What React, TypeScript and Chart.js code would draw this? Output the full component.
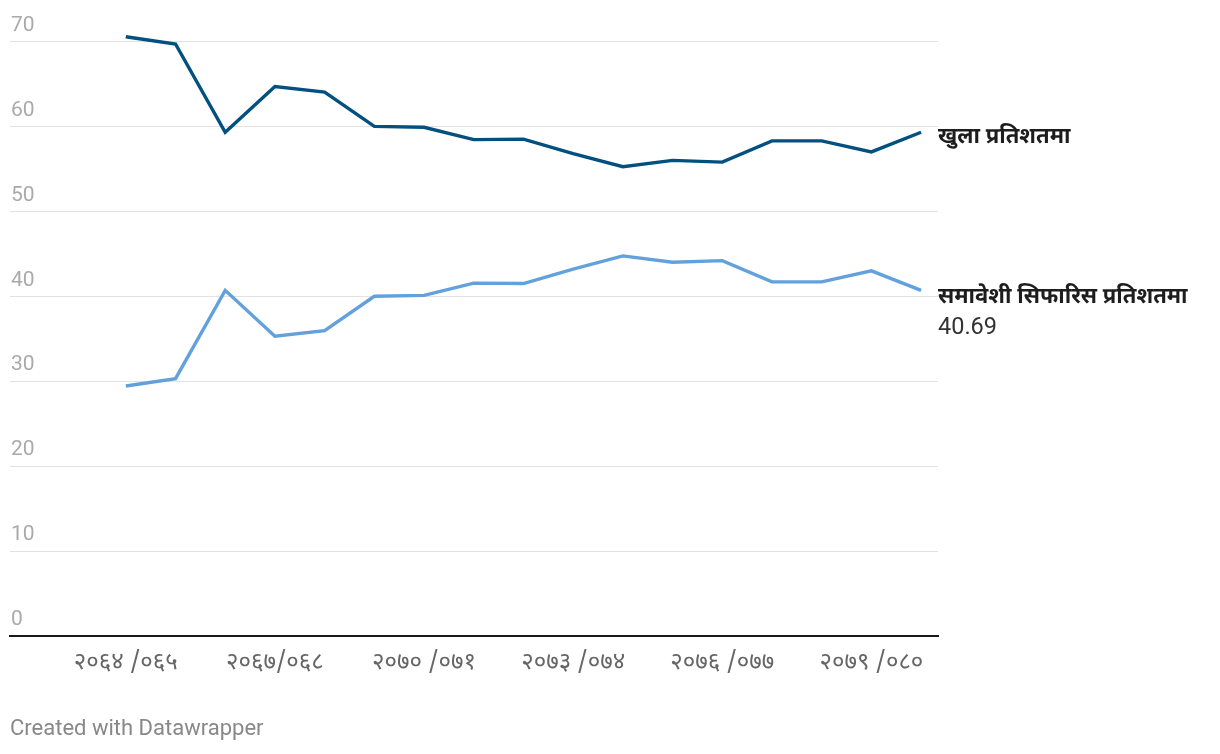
import React, { useEffect, useRef } from "react";
import { Chart, registerables } from "chart.js";

Chart.register(...registerables);

// Fiscal years (Nepali, Devanagari digits)
const categories = [
  "२०६४ /०६५", "२०६५ /०६६", "२०६६ /०६७", "२०६७/०६८", "२०६८ /०६९",
  "२०६९ /०७०", "२०७० /०७१", "२०७१ /०७२", "२०७२ /०७३", "२०७३ /०७४",
  "२०७४ /०७५", "२०७५ /०७६", "२०७६ /०७७", "२०७७ /०७८", "२०७८ /०७९",
  "२०७९ /०८०", "२०८० /०८१",
];
const tickIndices = [0, 3, 6, 9, 12, 15];
const yTicks = [0, 10, 20, 30, 40, 50, 60, 70];

const openPct = [
  70.56, 69.7, 59.3, 64.7, 64.05, 60.0, 59.9, 58.45, 58.5, 56.8, 55.25, 56.0,
  55.8, 58.3, 58.3, 57.0, 59.31,
];
const inclusivePct = [
  29.44, 30.3, 40.7, 35.3, 35.95, 40.0, 40.1, 41.55, 41.5, 43.2, 44.75, 44.0,
  44.2, 41.7, 41.7, 43.0, 40.69,
];
const seriesNames = ["खुला प्रतिशतमा", "समावेशी सिफारिस प्रतिशतमा"];
const seriesColors = ["#02507f", "#62a1dc"];
const showLastValue = [false, true];

const DEVA = "'Noto Sans Devanagari', 'Noto Sans', Roboto, sans-serif";

const endLabels = {
  id: "endLabels",
  afterDatasetsDraw(chart: any) {
    const ctx = chart.ctx;
    const x = chart.chartArea.right;
    ctx.save();
    chart.data.datasets.forEach((ds: any, i: number) => {
      const meta = chart.getDatasetMeta(i);
      const pt = meta.data[meta.data.length - 1];
      const y = pt.y;
      ctx.textAlign = "left";
      ctx.textBaseline = "middle";
      ctx.fillStyle = "#1d1d1d";
      ctx.font = `bold 22px ${DEVA}`;
      ctx.fillText(seriesNames[i], x, y + (i === 0 ? 7 : 8));
      if (showLastValue[i]) {
        const v = ds.data[ds.data.length - 1].y;
        ctx.font = `23.5px Roboto, sans-serif`;
        ctx.fillStyle = "#333333";
        ctx.fillText(v.toFixed(2), x, y + 38);
      }
    });
    ctx.restore();
  },
};

export default function App() {
  const ref = useRef<HTMLCanvasElement | null>(null);

  useEffect(() => {
    if (!ref.current) return;
    const chart = new Chart(ref.current, {
      type: "line",
      data: {
        datasets: [
          {
            label: seriesNames[0],
            data: openPct.map((v, i) => ({ x: i, y: v })),
            borderColor: seriesColors[0],
            borderWidth: 3.4,
            pointRadius: 0,
            tension: 0,
          },
          {
            label: seriesNames[1],
            data: inclusivePct.map((v, i) => ({ x: i, y: v })),
            borderColor: seriesColors[1],
            borderWidth: 3.4,
            pointRadius: 0,
            tension: 0,
          },
        ],
      },
      options: {
        animation: false,
        responsive: true,
        maintainAspectRatio: false,
        layout: { padding: { left: 2, right: 274, top: 16.5, bottom: 50 } },
        plugins: {
          legend: { display: false },
          tooltip: { enabled: false },
        },
        scales: {
          x: {
            type: "linear",
            min: -2.33,
            max: 16.34,
            afterBuildTicks: (scale: any) => {
              scale.ticks = tickIndices.map((v) => ({ value: v }));
            },
            afterFit: (scale: any) => {
              scale.height = 60;
            },
            grid: { display: false, drawTicks: false },
            border: { display: true, color: "#1a1a1a", width: 2 },
            ticks: {
              padding: 14,
              color: "#666666",
              font: { size: 24, family: DEVA },
              maxRotation: 0,
              autoSkip: false,
              callback: (v: any) => categories[v] ?? "",
            },
          },
          y: {
            min: 0,
            max: 72,
            afterBuildTicks: (scale: any) => {
              scale.ticks = yTicks.map((v) => ({ value: v }));
            },
            afterFit: (scale: any) => {
              scale.width = 0;
            },
            grid: { color: "#e2e2e2", lineWidth: 1, drawTicks: false },
            border: { display: false },
            ticks: {
              mirror: true,
              padding: 1,
              labelOffset: -16,
              color: "#aaaaaa",
              font: { size: 21, family: "Roboto, sans-serif" },
            },
          },
        },
      },
      plugins: [endLabels],
    } as any);
    return () => chart.destroy();
  }, []);

  return (
    <div style={{ position: "relative", width: 1204, height: 738 }}>
      <canvas ref={ref} />
      <div
        style={{
          position: "absolute",
          left: 2,
          top: 707,
          fontFamily: "Roboto, sans-serif",
          fontSize: 22,
          color: "#888888",
          lineHeight: "26px",
        }}
      >
        Created with Datawrapper
      </div>
    </div>
  );
}
